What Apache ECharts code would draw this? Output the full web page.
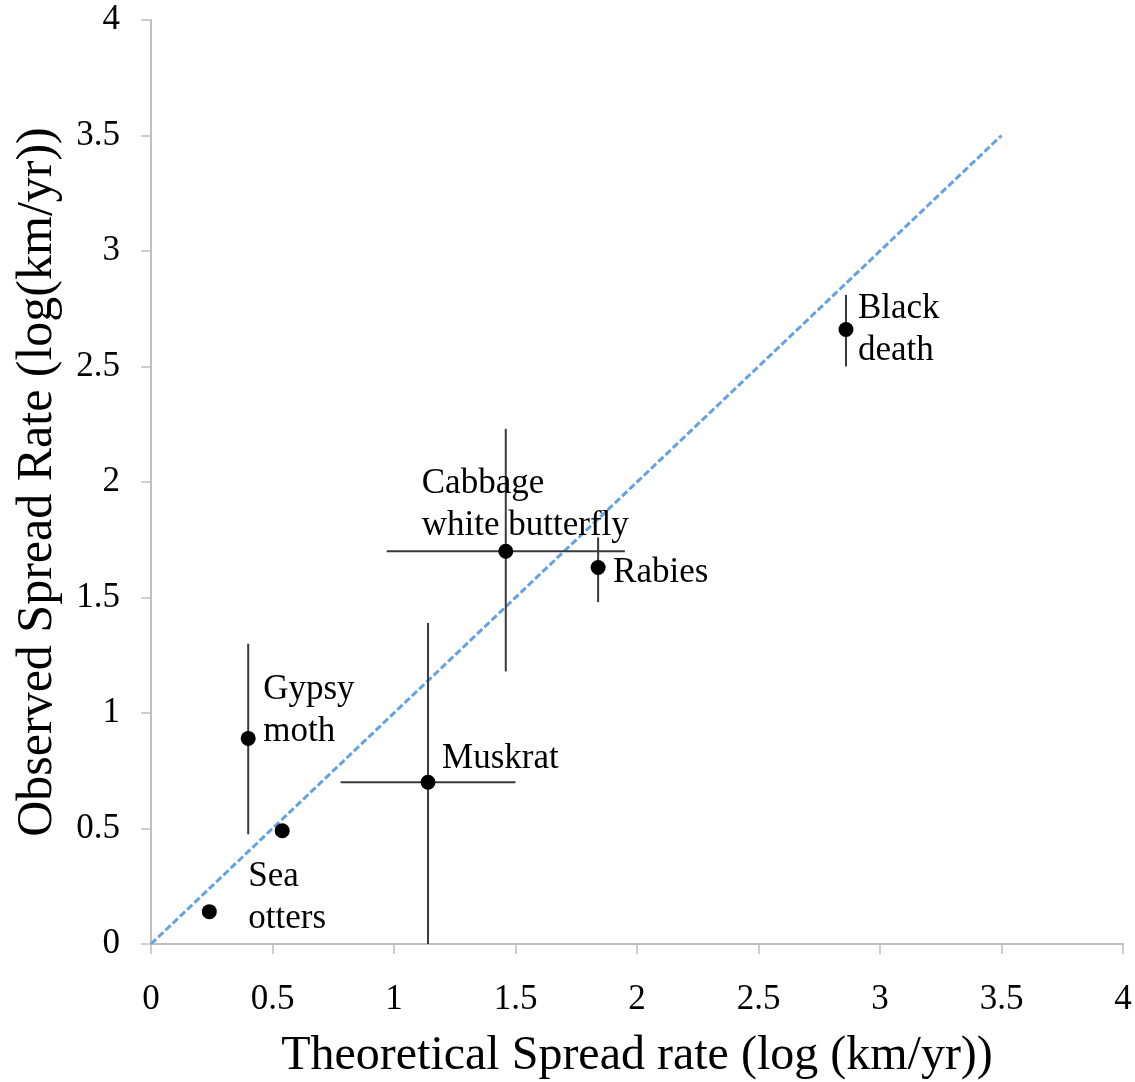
<!DOCTYPE html>
<html>
<head>
<meta charset="utf-8">
<script src="https://cdn.jsdelivr.net/npm/echarts@6/dist/echarts.min.js"></script>
<style>html,body{margin:0;padding:0;background:#fff;}#c{width:1135px;height:1082px;}</style>
</head>
<body>
<div id="c"></div>
<script>
// ---- data ----
var names   = ['Sea\notters', '', 'Gypsy\nmoth', 'Muskrat', 'Cabbage\nwhite butterfly', 'Rabies', 'Black\ndeath'];
var xValues = [0.24, 0.54, 0.40, 1.14, 1.46, 1.84, 2.86];
var yValues = [0.14, 0.49, 0.89, 0.70, 1.70, 1.63, 2.66];
var xErrLow  = [null, null, null, 0.78, 0.97, null, null];
var xErrHigh = [null, null, null, 1.50, 1.95, null, null];
var yErrLow  = [null, null, 0.475, 0.00, 1.18, 1.48, 2.50];
var yErrHigh = [null, null, 1.30, 1.39, 2.23, 1.76, 2.81];
var refLine = [[0, 0], [3.5, 3.5]];

// label placement (style only)
var labelOffsets = [[39, -14], [0, 0], [15, -28], [14, -23], [-84, -46], [15, 5], [12, 0]];

var font = '"Liberation Serif", "Times New Roman", serif';
var chart = echarts.init(document.getElementById('c'));

var points = xValues.map(function (x, i) { return { value: [x, yValues[i]], name: names[i],
  label: { offset: labelOffsets[i] } }; });
var errData = xValues.map(function (x, i) { return [x, yValues[i]]; });

chart.setOption({
  animation: false,
  grid: { left: 151, right: 12, top: 20, bottom: 138, containLabel: false, outerBoundsMode: 'none' },
  xAxis: {
    type: 'value', min: 0, max: 4, interval: 0.5,
    name: 'Theoretical Spread rate (log (km/yr))', nameLocation: 'middle', nameGap: 88,
    nameTextStyle: { fontFamily: font, fontSize: 48, color: '#000' },
    axisLine: { show: true, onZero: false, lineStyle: { color: '#bfbfbf', width: 2 } },
    axisTick: { show: true, length: 10, lineStyle: { color: '#bfbfbf', width: 1.5 } },
    axisLabel: { fontFamily: font, fontSize: 35, color: '#000', margin: 38,
      formatter: function (v) { return String(v); } },
    splitLine: { show: false }
  },
  yAxis: {
    type: 'value', min: 0, max: 4, interval: 0.5,
    name: 'Observed Spread Rate (log(km/yr))', nameLocation: 'middle', nameGap: 88,
    nameTextStyle: { fontFamily: font, fontSize: 50, color: '#000' },
    axisLine: { show: true, onZero: false, lineStyle: { color: '#bfbfbf', width: 2 } },
    axisTick: { show: true, length: 10, lineStyle: { color: '#bfbfbf', width: 1.5 } },
    axisLabel: { fontFamily: font, fontSize: 35, color: '#000', margin: 31 },
    splitLine: { show: false }
  },
  series: [
    {
      type: 'line', data: refLine, symbol: 'none', silent: true,
      lineStyle: { color: '#64a2e3', width: 3, type: [7, 3] }, z: 1
    },
    {
      type: 'custom', data: errData, z: 2, silent: true,
      renderItem: function (params, api) {
        var i = params.dataIndex;
        var children = [];
        var x = api.value(0), y = api.value(1);
        var style = { stroke: '#3a3a3a', lineWidth: 2 };
        if (xErrLow[i] !== null) {
          var a = api.coord([xErrLow[i], y]), b = api.coord([xErrHigh[i], y]);
          children.push({ type: 'line', shape: { x1: a[0], y1: a[1], x2: b[0], y2: b[1] }, style: style });
        }
        if (yErrLow[i] !== null) {
          var c = api.coord([x, yErrLow[i]]), d = api.coord([x, yErrHigh[i]]);
          children.push({ type: 'line', shape: { x1: c[0], y1: c[1], x2: d[0], y2: d[1] }, style: style });
        }
        return { type: 'group', children: children };
      }
    },
    {
      type: 'scatter', data: points, symbol: 'circle', symbolSize: 15, z: 3,
      itemStyle: { color: '#000', opacity: 1 },
      label: {
        show: true, position: 'inside', align: 'left', verticalAlign: 'middle',
        formatter: function (p) { return p.name; },
        fontFamily: font, fontSize: 35, lineHeight: 42, color: '#000'
      }
    }
  ]
});
</script>
</body>
</html>
